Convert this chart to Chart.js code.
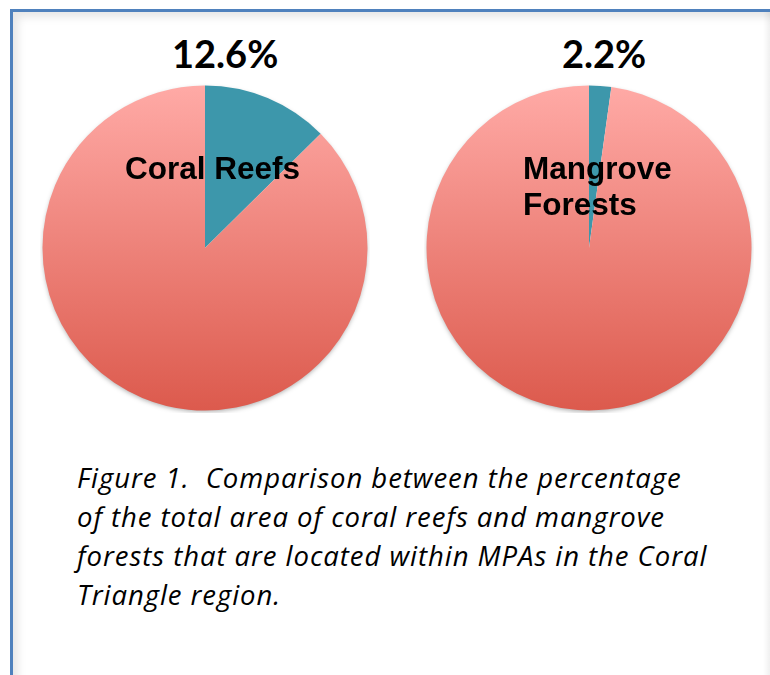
<!DOCTYPE html>
<html>
<head>
<meta charset="utf-8">
<script src="https://cdn.jsdelivr.net/npm/chart.js@4.4.1/dist/chart.umd.min.js"></script>
<style>
  html, body { margin: 0; padding: 0; background: #fff; }
  body { width: 770px; height: 675px; position: relative; overflow: hidden; }
  #frame {
    position: absolute; left: 10px; top: 9px; width: 760px; height: 680px;
    border-left: 3px solid #4F81BD; border-top: 3px solid #4F81BD;
    box-shadow: inset 5px 5px 8px rgba(0,0,0,0.10);
  }
  #edge {
    position: absolute; left: 763px; top: 12px; width: 7px; height: 663px;
    background: linear-gradient(to right, rgba(0,0,0,0), rgba(0,0,0,0.06));
  }
  .pie { position: absolute; top: 83px; width: 330px; height: 330px; }
  .pct {
    position: absolute; z-index: 2; font-family: Lato, sans-serif; font-weight: bold;
    font-size: 38px; line-height: 38px; color: #000; white-space: nowrap;
  }
  .lbl {
    position: absolute; z-index: 2; font-family: "Liberation Sans", Arial, sans-serif; font-weight: bold;
    font-size: 31.5px; line-height: 36px; color: #000; white-space: nowrap;
  }
  #caption {
    position: absolute; left: 77px; top: 458px;
    font-family: "Open Sans", sans-serif; font-style: italic; letter-spacing: 0.95px;
    font-size: 27.5px; line-height: 39px; color: #000; white-space: pre;
  }
</style>
</head>
<body>
<div id="frame"></div>
<div id="edge"></div>

<div class="pie" style="left:40px"><canvas id="coralChart"></canvas></div>
<div class="pie" style="left:424px"><canvas id="mangroveChart"></canvas></div>

<div class="pct" id="coralPct" style="left:172px; top:34px"></div>
<div class="pct" id="mangrovePct" style="left:562px; top:34px"></div>

<div class="lbl" style="left:125px; top:150px">Coral Reefs</div>
<div class="lbl" style="left:523px; top:150px">Mangrove<br>Forests</div>

<div id="caption">Figure 1.  Comparison between the percentage
of the total area of coral reefs and mangrove
forests that are located within MPAs in the Coral
Triangle region.</div>

<script>
// dados
const pieLabels = ['Inside MPAs', 'Outside MPAs'];
const coralValues = [12.6, 87.4];
const mangroveValues = [2.2, 97.8];

const tealColor = '#3D97AB';
const pinkTop = '#FFAAA6';
const pinkBottom = '#DC5A4D';

document.getElementById('coralPct').innerText = coralValues[0] + '%';
document.getElementById('mangrovePct').innerText = mangroveValues[0] + '%';

// fatia 0 azul, fatia 1 com gradiente vertical rosa
function sliceFill(context) {
    if (context.dataIndex === 0) return tealColor;
    const chart = context.chart;
    const area = chart.chartArea;
    if (!area) return pinkTop;
    const g = chart.ctx.createLinearGradient(0, area.top, 0, area.bottom);
    g.addColorStop(0, pinkTop);
    g.addColorStop(1, pinkBottom);
    return g;
}

// sombra leve embaixo da pizza
const pieShadow = {
    id: 'pieShadow',
    beforeDatasetsDraw(chart) {
        const arc = chart.getDatasetMeta(0).data[0];
        if (!arc) return;
        const ctx = chart.ctx;
        ctx.save();
        ctx.shadowColor = 'rgba(0,0,0,0.35)';
        ctx.shadowBlur = 5;
        ctx.shadowOffsetY = 2;
        ctx.beginPath();
        ctx.arc(arc.x, arc.y, arc.outerRadius - 1, 0, Math.PI * 2);
        ctx.fillStyle = '#fff';
        ctx.fill();
        ctx.restore();
    }
};

function createPie(canvasId, values) {
    const ctx = document.getElementById(canvasId).getContext('2d');
    return new Chart(ctx, {
        type: 'pie',
        data: {
            labels: pieLabels,
            datasets: [{
                data: values,
                backgroundColor: sliceFill,
                borderWidth: 0,
            }]
        },
        options: {
            responsive: true,
            maintainAspectRatio: false,
            animation: false,
            layout: { padding: 2.5 },
            plugins: {
                legend: { display: false },
                tooltip: { enabled: false },
            }
        },
        plugins: [pieShadow]
    });
}

createPie('coralChart', coralValues);
createPie('mangroveChart', mangroveValues);
</script>
</body>
</html>
